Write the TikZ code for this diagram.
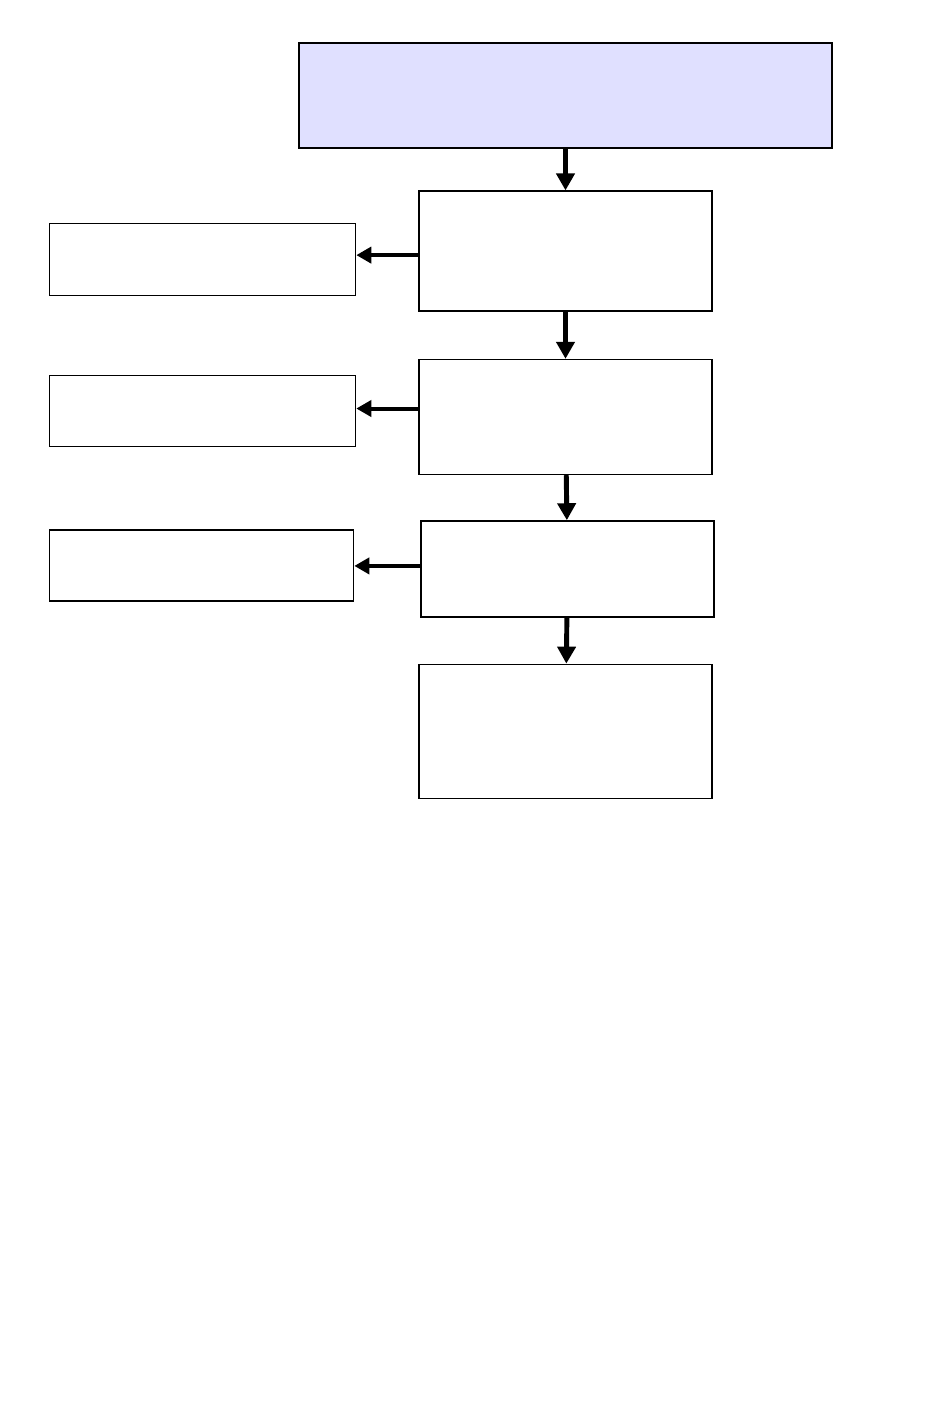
\documentclass[tikz,border=0pt]{standalone}
\usepackage{xcolor}
\usepackage{tikz}
\usetikzlibrary{arrows.meta, positioning}

\definecolor{headblue}{HTML}{E0E0FF}

\begin{document}
\begin{tikzpicture}[
    headbox/.style={rectangle, draw, line width=1.6pt, fill=headblue, minimum width=10.66cm, minimum height=2.1cm, inner sep=0pt},
    stepbox/.style={rectangle, draw, line width=0.8pt, fill=white, minimum width=5.86cm, inner sep=0pt},
    sidebox/.style={rectangle, draw, line width=0.8pt, fill=white, minimum width=6.12cm, minimum height=1.44cm, inner sep=0pt},
    arrow/.style={-{Triangle[length=0.34cm, width=0.36cm]}, line width=2.8pt},
    sidearrow/.style={-{Triangle[length=0.3cm, width=0.32cm]}, line width=2.3pt}
]
\useasboundingbox (0,0) rectangle (19,-28.4);

\node[headbox] (head) at (11.31,-1.91) {};
\node[stepbox, minimum height=2.4cm, below=0.82cm of head] (s1) {};
\node[stepbox, minimum height=2.3cm, below=0.94cm of s1] (s2) {};
\node[stepbox, minimum height=1.92cm, below=0.9cm of s2, xshift=0.04cm] (s3) {};
\node[stepbox, minimum height=2.68cm, below=0.92cm of s3, xshift=-0.04cm] (s4) {};

\node[sidebox, left=1.24cm of s1, yshift=-0.17cm] (d1) {};
\node[sidebox, left=1.24cm of s2, yshift=0.12cm, minimum height=1.42cm] (d2) {};
\node[sidebox, left=1.32cm of s3, yshift=0.07cm, minimum width=6.08cm, minimum height=1.42cm] (d3) {};

\draw[arrow] (head) -- (s1);
\draw[arrow] (s1) -- (s2);
\draw[arrow] (s2) -- (s3);
\draw[arrow] (s3) -- (s4);

\draw[sidearrow] ([yshift=-0.08cm]s1.west) -- ([yshift=-0.08cm]s1.west -| d1.east);
\draw[sidearrow] ([yshift=0.17cm]s2.west) -- ([yshift=0.17cm]s2.west -| d2.east);
\draw[sidearrow] ([yshift=0.06cm]s3.west) -- ([yshift=0.06cm]s3.west -| d3.east);

\end{tikzpicture}
\end{document}
